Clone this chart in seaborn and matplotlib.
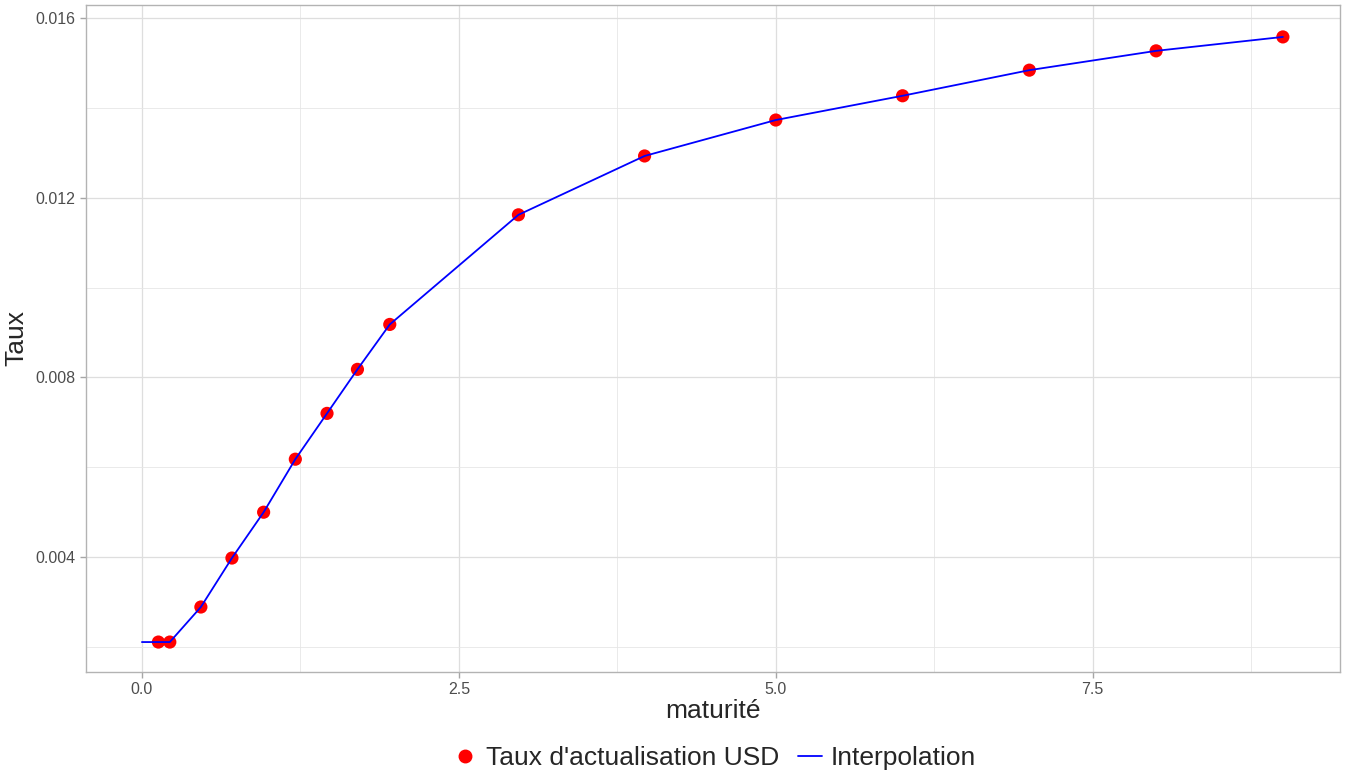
import matplotlib
matplotlib.use("Agg")
import matplotlib.pyplot as plt
from matplotlib.ticker import MultipleLocator, FormatStrFormatter
from matplotlib.lines import Line2D
import seaborn as sns
import pandas as pd

# data
maturite = [0.13, 0.22, 0.465, 0.71, 0.96, 1.21, 1.46, 1.70, 1.955, 2.97, 3.965, 5.0, 6.0, 7.0, 8.0, 9.0]
taux = [0.00211, 0.00211, 0.00289, 0.00398, 0.00500, 0.00618, 0.00720, 0.00818, 0.00918,
        0.01162, 0.01293, 0.01373, 0.01427, 0.01484, 0.01527, 0.01558]
# interpolated curve starts at 0 with flat extrapolation
interp_x = [0.0] + maturite
interp_y = [taux[0]] + taux

df_pts = pd.DataFrame({"maturite": maturite, "taux": taux})
df_line = pd.DataFrame({"maturite": interp_x, "taux": interp_y})

sns.set_style("white")
plt.rcParams["font.family"] = ["Liberation Sans", "DejaVu Sans"]

fig = plt.figure(figsize=(13.46, 7.73), dpi=100)
ax = fig.add_axes([0.064, 0.1307, 0.9315, 0.8628])

sns.scatterplot(data=df_pts, x="maturite", y="taux", color="red", s=90,
                edgecolor="none", zorder=3, ax=ax)
sns.lineplot(data=df_line, x="maturite", y="taux", color="blue", linewidth=1.3,
             zorder=4, ax=ax, estimator=None, sort=False)

ax.set_xlim(-0.44, 9.45)
ax.set_ylim(0.001444, 0.01629)
ax.xaxis.set_major_locator(MultipleLocator(2.5))
ax.xaxis.set_minor_locator(MultipleLocator(1.25))
ax.yaxis.set_major_locator(MultipleLocator(0.004))
ax.yaxis.set_minor_locator(MultipleLocator(0.002))
ax.xaxis.set_major_formatter(FormatStrFormatter("%.1f"))
ax.yaxis.set_major_formatter(FormatStrFormatter("%.3f"))

ax.grid(which="major", color="#DEDEDE", linewidth=0.9)
ax.grid(which="minor", color="#E6E6E6", linewidth=0.6)
ax.set_axisbelow(True)
for sp in ax.spines.values():
    sp.set_color("#B3B3B3")
    sp.set_linewidth(1.0)

ax.tick_params(axis="both", which="major", bottom=True, left=True, direction="out",
               length=4.5, width=1.0, color="#A6A6A6",
               labelsize=11.5, labelcolor="#4D4D4D", pad=3)
ax.tick_params(axis="both", which="minor", length=0)

ax.set_xlabel("maturité", fontsize=19, labelpad=1)
ax.set_ylabel("Taux", fontsize=19, labelpad=5)

handles = [
    Line2D([], [], marker="o", color="red", linestyle="none", markersize=9),
    Line2D([], [], color="blue", linewidth=1.3),
]
fig.legend(handles, ["Taux d'actualisation USD", "Interpolation"], loc="lower center",
           bbox_to_anchor=(0.531, -0.027), ncol=2, frameon=False, fontsize=19,
           handlelength=0.9, handletextpad=0.35, columnspacing=0.7)

fig.savefig("out.png", dpi=100)
